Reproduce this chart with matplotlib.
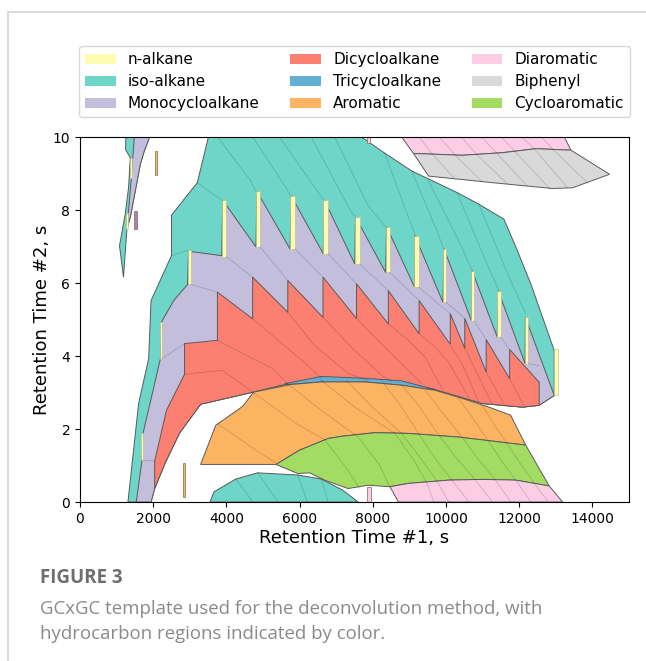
import matplotlib
matplotlib.use('Agg')
import matplotlib.pyplot as plt
from matplotlib.lines import Line2D
from matplotlib.patches import Patch

# GCxGC template regions, (RT1 [s], RT2 [s])
# shared lower boundary of the dicycloalkane band (left -> right)
red_lower = [(2041, 0.37), (2335, 1.09), (2720, 1.89), (3296, 2.68), (4725, 3.01), (5678, 3.24),
             (6593, 3.40), (7782, 3.35), (8790, 3.29), (9705, 3.08), (10073, 2.97), (10988, 2.70),
             (12087, 2.60), (12546, 2.65)]

iso_upper = [(1310, 0), (1602, 2.70), (1876, 3.93), (1942, 5.52), (2500, 6.75), (2500, 7.86),
             (3206, 8.75), (3508, 10), (7692, 10), (8323, 9.56), (9065, 9.07), (10301, 8.48),
             (10897, 8.16), (11584, 7.75), (11949, 6.89), (12315, 5.98), (12958, 4.15), (12958, 2.92)]

mono_upper = [(1538, 0), (1695, 1.15), (1722, 1.88), (2198, 3.93), (2225, 4.93), (2563, 5.52),
              (2939, 5.96), (2967, 6.87), (3873, 6.75), (3901, 8.27), (4807, 6.99), (4835, 8.51),
              (5741, 6.93), (5769, 8.39), (6648, 6.80), (6675, 8.28), (7508, 6.52), (7527, 7.81),
              (8351, 6.29), (8378, 7.54), (9139, 5.89), (9147, 7.30), (9917, 5.47), (9944, 6.94),
              (10694, 4.97), (10713, 6.34), (11400, 4.52), (11428, 5.79), (12161, 3.79), (12169, 5.06),
              (12958, 2.92)]

red_top = [(2857, 4.34), (3755, 4.43), (3755, 5.75), (4717, 5.02), (4717, 6.16), (5678, 5.20),
           (5678, 6.07), (6640, 5.06), (6640, 6.16), (7554, 5.03), (7554, 5.98), (8425, 4.88),
           (8425, 5.79), (9266, 4.61), (9266, 5.52), (10117, 4.32), (10117, 5.16), (10513, 4.21),
           (10513, 5.03), (11098, 3.56), (11098, 4.45), (11738, 3.38), (11738, 4.18), (12546, 3.28)]
red_left = [(2041, 1.12), (2362, 2.51), (2857, 3.50)]

tri_band = [(5586, 3.24), (6593, 3.44), (7782, 3.39), (8790, 3.32), (9705, 3.08), (9430, 3.10),
            (8790, 3.20), (7782, 3.29), (6593, 3.29), (5678, 3.22)]

arom = [(3296, 1.03), (3708, 2.10), (4442, 2.62), (4744, 3.01), (5769, 3.22), (6593, 3.29),
        (7782, 3.29), (8790, 3.20), (9705, 3.06), (10439, 2.84), (11172, 2.60), (11765, 2.38),
        (12177, 1.56), (10348, 1.78), (8974, 1.88), (8057, 1.90), (7142, 1.80), (6777, 1.74),
        (5997, 1.42), (5357, 1.03)]

cyclo_arom = [(5357, 1.03), (5997, 1.42), (6777, 1.74), (7142, 1.80), (8057, 1.90), (8974, 1.88),
              (10348, 1.78), (12177, 1.56), (12820, 0.44), (11903, 0.60), (10988, 0.62),
              (10073, 0.60), (8974, 0.51), (8469, 0.42), (7875, 0.46), (7326, 0.37), (6685, 0.60),
              (6272, 0.80), (5953, 0.78)]

diarom_low = [(8469, 0.42), (8974, 0.51), (10073, 0.60), (10988, 0.62), (11903, 0.60), (12820, 0.44),
              (13186, 0.0), (8700, 0.0)]
diarom_top = [(8790, 10), (13232, 10), (13414, 9.64), (12452, 9.68), (11537, 9.57), (10439, 9.50),
              (9112, 9.55)]
biphenyl = [(9112, 9.55), (10439, 9.50), (11537, 9.57), (12452, 9.68), (13414, 9.64), (14468, 8.98),
            (13460, 8.61), (12911, 8.59), (11263, 8.75), (9524, 8.93)]

iso_low = [(3552, 0), (3662, 0.28), (4258, 0.63), (4854, 0.80), (5953, 0.74), (6593, 0.63),
           (7170, 0.33), (7601, 0)]
iso_sliver = [(1255, 10), (1244, 9.66), (1374, 9.43), (1327, 8.61), (1236, 7.89), (1080, 7.02),
              (1189, 6.16), (1283, 7.48), (1374, 7.80), (1511, 8.52), (1648, 9.25), (1758, 9.62),
              (1905, 10)]
mono_sliver = [(1483, 10), (1905, 10), (1758, 9.62), (1648, 9.25), (1511, 8.52), (1374, 7.80),
               (1283, 7.48), (1401, 8.84)]

# n-alkane strips: x left, x right, y bottom, y top
nalk_x0 = [1374, 1255, 2939, 3873, 4807, 5741, 6648, 7508, 8351, 9139, 9917, 10694, 11400, 12161, 12958, 2198, 1667]
nalk_x1 = [1420, 1299, 3041, 4002, 4925, 5879, 6777, 7645, 8469, 9249, 10007, 10760, 11491, 12243, 13048, 2244, 1722]
nalk_y0 = [8.88, 7.48, 5.96, 6.72, 6.99, 6.93, 6.80, 6.52, 6.29, 5.89, 5.47, 4.97, 4.52, 3.79, 2.92, 3.93, 1.15]
nalk_y1 = [9.43, 7.93, 6.91, 8.27, 8.51, 8.39, 8.28, 7.81, 7.54, 7.30, 6.94, 6.34, 5.79, 5.06, 4.20, 4.93, 1.89]

# odd little boxes
spot_x0 = [2041, 1483, 2802, 7829, 7829]
spot_x1 = [2104, 1558, 2876, 7947, 7920]
spot_y0 = [8.96, 7.48, 0.14, 0.01, 9.84]
spot_y1 = [9.62, 7.98, 1.06, 0.42, 10.0]
spot_c = ['#fdb462', '#b07fb0', '#fdb462', '#fccde5', '#fccde5']

# carbon number dividers inside the regions
dividers = [
    [(2500, 6.75), (2939, 6.89)], [(3206, 8.75), (3873, 8.27)],
    [(3755, 10), (4670, 8.80), (4807, 8.51)], [(4717, 10), (5632, 8.61), (5749, 8.39)],
    [(5447, 10), (6546, 8.43), (6640, 8.30)], [(6318, 10), (7417, 7.93), (7508, 7.84)],
    [(6958, 10), (7876, 8.11), (8351, 7.54)], [(8323, 9.56), (8974, 7.80), (9156, 7.30)],
    [(9065, 9.07), (9752, 7.43), (9936, 6.93)], [(9524, 8.80), (10392, 7.07), (10713, 6.34)],
    [(10301, 8.48), (11079, 6.61), (11447, 5.79)], [(10897, 8.16), (11722, 6.16), (12177, 5.16)],
    # monocycloalkane
    [(3041, 5.96), (3755, 5.75)], [(4002, 6.72), (4717, 6.16)], [(4925, 6.99), (5678, 6.07)],
    [(5879, 6.93), (6640, 6.16)], [(6777, 6.80), (7554, 5.98)], [(7645, 6.52), (8425, 5.79)],
    [(8469, 6.29), (9266, 5.52)], [(9249, 5.89), (10117, 5.16)], [(10007, 5.47), (10513, 5.03)],
    [(10760, 4.97), (11098, 4.45)], [(11491, 4.52), (11738, 4.18)], [(12243, 3.79), (12546, 3.74)],
    [(2244, 3.93), (2857, 4.34)], [(1722, 1.15), (2041, 1.12)],
    # dicycloalkane
    [(2857, 3.50), (3893, 3.61), (4717, 3.01)], [(3755, 4.43), (4717, 3.93), (5274, 3.65), (5659, 3.25)],
    [(4717, 5.02), (6227, 3.74), (6593, 3.39)], [(5678, 5.20), (6409, 4.29), (7326, 3.52), (7876, 3.33)],
    [(6640, 5.06), (7417, 4.24), (8241, 3.47), (8516, 3.31)], [(7554, 5.03), (8332, 4.24), (8790, 3.79), (9340, 3.25)],
    [(8425, 4.88), (8974, 4.43), (9431, 3.97), (9889, 3.11)], [(9266, 4.61), (9705, 4.24), (10073, 3.83), (10623, 2.87)],
    [(10117, 4.29), (10439, 3.79), (10897, 2.73)], [(10513, 4.21), (11263, 2.68)],
    [(11098, 3.56), (11620, 2.62)], [(11738, 3.38), (12142, 2.61)],
    # aromatic / cycloaromatic / diaromatic
    [(3755, 2.15), (4807, 1.42), (5357, 1.07)],
    [(4717, 3.01), (5906, 2.15), (6683, 1.71), (7280, 0.93), (7637, 0.38)],
    [(5678, 3.24), (6593, 2.51), (7601, 1.78), (8186, 1.01), (8461, 0.42)],
    [(6593, 3.33), (7508, 2.60), (8607, 1.88), (9120, 1.15), (9477, 0.52), (9670, 0)],
    [(7280, 3.33), (7966, 2.62), (8790, 1.88), (9340, 1.15), (9752, 0.57), (10082, 0)],
    [(8241, 3.33), (8790, 2.60), (9249, 1.88), (9705, 1.19), (10164, 0.60), (10623, 0.01)],
    [(8790, 3.20), (9249, 2.65), (9705, 1.97), (10254, 1.24), (10804, 0.60), (11263, 0.01)],
    [(9431, 3.06), (9889, 2.47), (10439, 1.78), (10897, 1.15), (11355, 0.60), (11765, 0.01)],
    [(10348, 2.83), (10713, 2.33), (11172, 1.65), (11537, 1.10), (11903, 0.60), (12315, 0.01)],
    [(10988, 2.65), (11355, 2.06), (11722, 1.52), (12087, 0.97), (12546, 0.33), (12775, 0.03)],
    # iso-alkane lower blob
    [(4258, 0.63), (4717, 0.01)], [(4854, 0.80), (5403, 0.01)], [(5953, 0.74), (6208, 0.01)],
    [(6593, 0.63), (6777, 0.01)],
    # diaromatic / biphenyl at the top
    [(9285, 9.98), (9615, 9.55), (10219, 8.88)], [(9834, 9.98), (10246, 9.51), (10988, 8.78)],
    [(10439, 9.98), (10851, 9.51), (11675, 8.72)], [(10988, 9.98), (11400, 9.54), (12224, 8.65)],
    [(11537, 9.98), (11895, 9.59), (12828, 8.59)], [(12087, 9.98), (12416, 9.67), (13323, 8.61)],
    [(12636, 9.98), (12911, 9.67), (13872, 8.74)],
]

labels = ['n-alkane', 'iso-alkane', 'Monocycloalkane', 'Dicycloalkane', 'Tricycloalkane',
          'Aromatic', 'Diaromatic', 'Biphenyl', 'Cycloaromatic']
colors = ['#fbfcb0', '#6dd6c9', '#c3bedc', '#fb8072', '#63aed3', '#fdb462', '#fccde5', '#d9d9d9', '#a3dc62']
col = dict(zip(labels, colors))

fig = plt.figure(figsize=(6.46, 6.61), dpi=100)
ax = fig.add_axes([0.1238, 0.2405, 0.8499, 0.5522])

edge = dict(edgecolor='#5a5a5a', linewidth=0.7)


def poly(pts, c, **kw):
    xs = [p[0] for p in pts]
    ys = [p[1] for p in pts]
    ax.fill(xs, ys, facecolor=c, **edge, **kw)


back = red_lower[::-1] + [(1942, 0)]
poly(iso_upper + back, col['iso-alkane'])
poly(iso_sliver, col['iso-alkane'])
poly(iso_low, col['iso-alkane'])
poly(mono_upper + back, col['Monocycloalkane'])
poly(mono_sliver, col['Monocycloalkane'])
poly(red_top + red_lower[::-1] + red_left, col['Dicycloalkane'])
poly(tri_band, col['Tricycloalkane'])
poly(arom, col['Aromatic'])
poly(cyclo_arom, col['Cycloaromatic'])
poly(diarom_low, col['Diaromatic'])
poly(diarom_top, col['Diaromatic'])
poly(biphenyl, col['Biphenyl'])

for d in dividers:
    ax.plot([p[0] for p in d], [p[1] for p in d], color='black', alpha=0.17, lw=0.6)

for x0, x1, y0, y1 in zip(nalk_x0, nalk_x1, nalk_y0, nalk_y1):
    ax.fill([x0, x1, x1, x0], [y0, y0, y1, y1], facecolor=col['n-alkane'],
            edgecolor='#b8b890', linewidth=0.4)
for x0, x1, y0, y1, c in zip(spot_x0, spot_x1, spot_y0, spot_y1, spot_c):
    ax.fill([x0, x1, x1, x0], [y0, y0, y1, y1], facecolor=c, edgecolor='#7a6a5a', linewidth=0.5)

ax.set_xlim(0, 15000)
ax.set_ylim(0, 10)
ax.set_xticks(range(0, 15000, 2000))
ax.set_yticks(range(0, 11, 2))
ax.tick_params(labelsize=10)
ax.set_xlabel('Retention Time #1, s', fontsize=13, labelpad=2)
ax.set_ylabel('Retention Time #2, s', fontsize=13, labelpad=1.5)

handles = [Patch(facecolor=c, edgecolor='none') for c in colors]
ax.legend(handles, labels, ncol=3, fontsize=11, loc='lower center', bbox_to_anchor=(0.5, 1.033),
          labelspacing=0.45, handletextpad=0.8, columnspacing=2.0)

# page frame and caption
fig.add_artist(Line2D([0.0124, 1.0], [0.982, 0.982], color='#d4d4d4', lw=1.2))
fig.add_artist(Line2D([0.0124, 0.0124], [0.0, 0.982], color='#d4d4d4', lw=1.2))
fig.text(0.062, 1 - 578 / 661, 'FIGURE 3', fontsize=13.5, weight='bold', color='#6e6e6e',
         family='Open Sans', va='center')
fig.text(0.062, 1 - 609 / 661, 'GCxGC template used for the deconvolution method, with',
         fontsize=13.4, color='#8a8a8a', family='Open Sans', va='center')
fig.text(0.062, 1 - 634 / 661, 'hydrocarbon regions indicated by color.',
         fontsize=13.4, color='#8a8a8a', family='Open Sans', va='center')

fig.savefig('out.png', dpi=100)
